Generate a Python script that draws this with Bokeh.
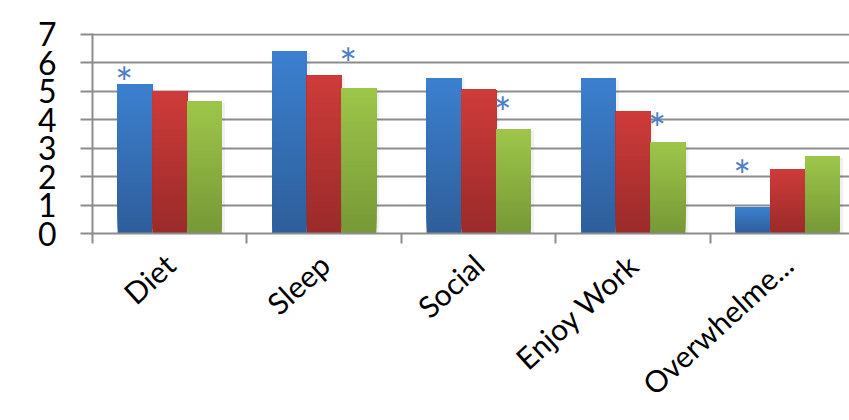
import numpy as np
from bokeh.plotting import figure
from bokeh.models import Range1d, FixedTicker
from bokeh.core.properties import value
from bokeh.embed import file_html
from bokeh.resources import INLINE

# ---- data ----
categories = ["Diet", "Sleep", "Social", "Enjoy Work", "Overwhelme..."]
series_blue = [5.25, 6.39, 5.44, 5.44, 0.91]
series_red = [5.00, 5.54, 5.05, 4.28, 2.25]
series_green = [4.63, 5.09, 3.65, 3.19, 2.70]
y_ticks = [0, 1, 2, 3, 4, 5, 6, 7]

# asterisk annotations: category, series index (0 blue, 1 red, 2 green), height
star_category = ["Diet", "Sleep", "Social", "Enjoy Work", "Overwhelme..."]
star_series = [0, 2, 2, 2, 0]
star_y = [5.6, 6.25, 4.56, 4.0, 2.32]

# ---- styles ----
series = [series_blue, series_red, series_green]
grad_top = [(60, 128, 208), (206, 60, 58), (158, 198, 74)]
grad_bot = [(46, 94, 154), (154, 42, 42), (118, 152, 54)]
bar_w = 0.225
offsets = [-bar_w, 0.0, bar_w]
FONT = "Lato"
GRID = "#8c8c8c"

centers = [i + 0.5 for i in range(len(categories))]

p = figure(width=849, height=420,
           x_range=Range1d(0, 4.9), y_range=Range1d(0, 7.02),
           output_backend="svg", toolbar_location=None,
           min_border_left=92, min_border_right=0,
           min_border_top=33, min_border_bottom=187)
p.outline_line_color = None
p.background_fill_color = "white"

# gradient bars built from horizontal bands of each bar (each band runs to the bar top,
# later bands paint over the upper part, so there are no seams)
N = 30
for s, vals in enumerate(series):
    L, R, B, T, C = [], [], [], [], []
    for c, v in zip(centers, vals):
        x0 = c + offsets[s] - bar_w / 2
        x1 = c + offsets[s] + bar_w / 2
        for k in range(N):
            t = (k + 0.5) / N
            col = tuple(int(round(grad_bot[s][j] + (grad_top[s][j] - grad_bot[s][j]) * t)) for j in range(3))
            L.append(x0); R.append(x1)
            B.append(v * k / N)
            T.append(v)
            C.append("#%02x%02x%02x" % col)
    # soft shadow
    p.quad(left=[c + offsets[s] - bar_w / 2 + 0.012 for c in centers],
           right=[c + offsets[s] + bar_w / 2 + 0.02 for c in centers],
           bottom=[0] * len(vals), top=[v - 0.05 for v in vals],
           fill_color="#000000", fill_alpha=0.06, line_color=None)
    p.quad(left=L, right=R, bottom=B, top=T, fill_color=C, line_color=None)

# asterisks
sx = [centers[categories.index(c)] + offsets[s] - 0.07 for c, s in zip(star_category, star_series)]
p.text(x=sx, y=star_y, text=["*"] * len(star_y), text_color="#4a7ec4",
       text_font=value(FONT), text_font_size="42px", text_align="center",
       text_baseline="alphabetic", y_offset=8)

# axes
ya = p.yaxis[0]
ya.ticker = FixedTicker(ticks=y_ticks)
ya.axis_line_color = GRID
ya.axis_line_width = 2
ya.major_tick_line_color = GRID
ya.major_tick_line_width = 2
ya.major_tick_out = 12
ya.major_tick_in = 0
ya.minor_tick_line_color = None
ya.major_label_text_font = FONT
ya.major_label_text_font_size = "32px"
ya.major_label_text_color = "black"
ya.major_label_standoff = 24

xa = p.xaxis[0]
xa.ticker = FixedTicker(ticks=centers, minor_ticks=[0, 1, 2, 3, 4, 5])
xa.major_label_overrides = {c: name for c, name in zip(centers, categories)}
xa.axis_line_color = GRID
xa.axis_line_width = 2
xa.major_tick_line_color = None
xa.major_tick_out = 0
xa.major_tick_in = 0
xa.minor_tick_line_color = GRID
xa.minor_tick_line_width = 2
xa.minor_tick_out = 10
xa.minor_tick_in = 0
xa.major_label_orientation = 0.74
xa.major_label_text_font = FONT
xa.major_label_text_font_size = "30px"
xa.major_label_text_color = "black"
xa.major_label_standoff = 16

p.xgrid.visible = False
p.ygrid.ticker = FixedTicker(ticks=y_ticks)
p.ygrid.grid_line_color = GRID
p.ygrid.grid_line_width = 2

open("out.html", "w").write(file_html(p, INLINE))
